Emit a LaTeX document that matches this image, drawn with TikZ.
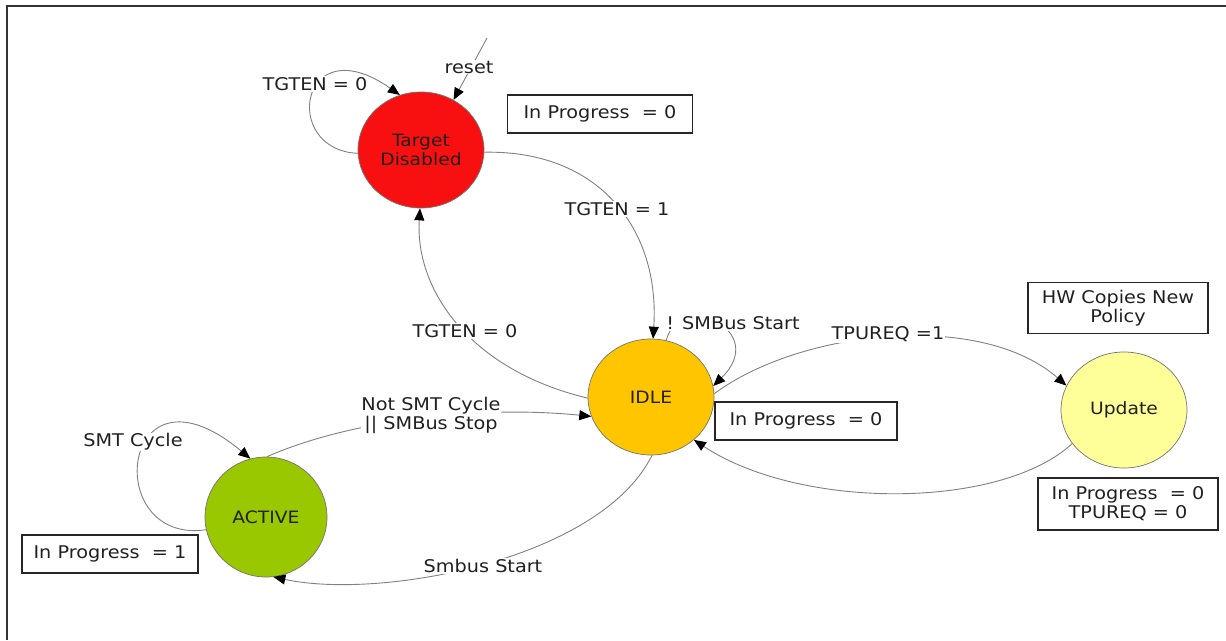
\documentclass[tikz,border=0pt]{standalone}
\usepackage{fontspec}
\setmainfont{DejaVu Sans}[FakeStretch=1.1]
\usetikzlibrary{arrows.meta,shapes.geometric}
\definecolor{tdred}{HTML}{F81010}
\definecolor{idleamber}{HTML}{FFC600}
\definecolor{updyellow}{HTML}{FFFF99}
\definecolor{actgreen}{HTML}{99C700}
\definecolor{txt}{HTML}{202020}
\begin{document}
\begin{tikzpicture}[x=1pt,y=-1pt,
 state/.style={ellipse,draw=black!55,line width=0.7pt,minimum width=126pt,minimum height=116pt,inner sep=0pt,align=center,font=\fontsize{17}{19}\selectfont,text=txt},
 infobox/.style={draw=black!85,line width=1.3pt,inner sep=0pt,align=center,font=\fontsize{17.5}{19}\selectfont,text=txt},
 lbl/.style={fill=white,inner sep=1pt,align=center,font=\fontsize{17.5}{19}\selectfont,text=txt},
 edge/.style={draw=black!50,line width=0.9pt,-{Triangle[length=12pt,width=10pt,color=black]}},
]
\useasboundingbox (0,0) rectangle (1226,640);
\draw[line width=1.5pt,black!80] (7,640) -- (7,6) -- (1226,6);

% states
\node[state,fill=tdred] (tgt) at (421,150) {Target\\Disabled};
\node[state,fill=idleamber] (idle) at (651,397) {IDLE};
\node[state,fill=updyellow] (upd) at (1124,410) {Update};
\node[state,fill=actgreen,minimum width=122pt,minimum height=120pt] (act) at (266,517) {ACTIVE};

% info boxes
\node[infobox,minimum width=185pt,minimum height=38pt] (b1) at (600,114) {In Progress\ \ = 0};
\node[infobox,minimum width=180pt,minimum height=51pt] (b2) at (1118,308) {HW Copies New\\Policy};
\node[infobox,minimum width=182pt,minimum height=38pt] (b3) at (806,421) {In Progress\ \ = 0};
\node[infobox,minimum width=180pt,minimum height=52pt] (b4) at (1128,504) {In Progress\ \ = 0\\TPUREQ = 0};
\node[infobox,minimum width=176pt,minimum height=38pt] (b5) at (110,554) {In Progress\ \ = 1};

% edges
\coordinate (rs) at (487,38);
\draw[edge] (rs) -- (tgt.57);
\draw[edge] (tgt.183) .. controls (280,150) and (300,25) .. (tgt.111);
\draw[edge] (tgt.358) .. controls (600,150) and (660,230) .. (idle.88);
\draw[edge] (idle.181) .. controls (470,370) and (415,290) .. (tgt.269);
\draw[edge] (idle.75) .. controls (680,290) and (770,330) .. (idle.10);
\draw[edge] (idle.3) .. controls (800,330) and (980,310) .. (upd.157);
\draw[edge] (upd.213) .. controls (1000,510) and (800,510) .. (idle.315);
\draw[edge] (act.89) .. controls (350,420) and (480,405) .. (idle.198);
\draw[edge] (idle.271) .. controls (600,560) and (380,600) .. (act.277);
\draw[edge] (act.192) .. controls (100,545) and (120,350) .. (act.105);

% labels
\node[lbl] (lreset) at (469,67) {reset};
\node[lbl] (lt0a) at (315,84) {TGTEN = 0};
\node[lbl] (lt1) at (617,209) {TGTEN = 1};
\node[lbl] (lt0b) at (465,331) {TGTEN = 0};
\node[lbl] (lsm) at (733,323) {! SMBus Start};
\node[lbl] (ltp) at (888,334) {TPUREQ =1};
\node[lbl,inner sep=0pt] (lnot) at (431,415) {Not SMT Cycle\\\textbar\textbar\ SMBus Stop};
\node[lbl] (lsms) at (483,566) {Smbus Start};
\node[lbl] (lsmt) at (133,442) {SMT Cycle};
\end{tikzpicture}
\end{document}
